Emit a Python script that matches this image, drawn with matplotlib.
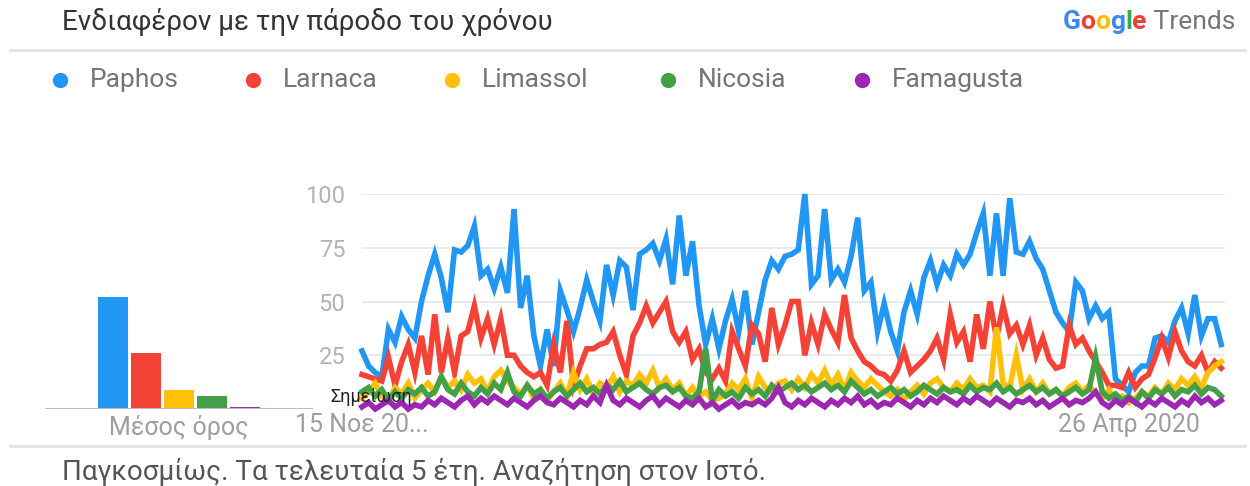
import numpy as np
import pandas as pd
import matplotlib.pyplot as plt
from matplotlib.lines import Line2D

plt.rcParams['font.family'] = ['Roboto', 'DejaVu Sans']

# Search interest, one value every two weeks (15 Nov 2015 - 8 Nov 2020)
dates = pd.date_range('2015-11-15', periods=131, freq='14D')

paphos = [27, 20, 17, 15, 37, 31, 43, 37, 33, 50,
          62, 72, 61, 45, 74, 73, 76, 85, 62, 65,
          56, 66, 54, 93, 47, 62, 34, 20, 37, 20,
          55, 46, 36, 47, 60, 50, 41, 67, 53, 69,
          66, 46, 72, 74, 77, 69, 79, 58, 90, 62,
          78, 48, 30, 42, 28, 41, 51, 36, 55, 30,
          45, 60, 69, 65, 71, 72, 74, 100, 58, 62,
          93, 60, 65, 59, 71, 89, 55, 59, 36, 49,
          36, 27, 45, 55, 44, 61, 69, 58, 67, 62,
          72, 67, 72, 82, 91, 62, 91, 62, 98, 73,
          72, 78, 70, 65, 55, 45, 40, 36, 59, 55,
          42, 48, 42, 45, 14, 11, 8, 17, 20, 20,
          33, 34, 31, 41, 47, 35, 53, 34, 42, 42, 30]

larnaca = [16, 15, 14, 13, 24, 11, 22, 30, 17, 34,
           16, 44, 17, 33, 17, 34, 36, 48, 33, 42,
           30, 42, 25, 25, 20, 17, 15, 17, 11, 30,
           17, 41, 11, 20, 28, 28, 30, 31, 36, 25,
           16, 34, 40, 48, 40, 45, 50, 36, 31, 36,
           23, 28, 17, 14, 19, 13, 36, 28, 20, 39,
           35, 22, 47, 30, 39, 50, 50, 25, 40, 30,
           44, 37, 31, 53, 33, 27, 22, 20, 17, 16,
           13, 18, 27, 17, 20, 23, 27, 33, 23, 44,
           31, 36, 22, 44, 28, 50, 33, 48, 35, 39,
           30, 39, 25, 33, 23, 19, 20, 39, 30, 33,
           27, 22, 17, 11, 11, 10, 17, 10, 14, 16,
           24, 33, 24, 36, 27, 22, 20, 25, 17, 22, 19]

limassol = [5, 8, 12, 6, 4, 10, 7, 12, 5, 9,
            12, 8, 15, 10, 13, 9, 16, 12, 14, 8,
            15, 18, 13, 10, 7, 11, 5, 9, 4, 8,
            12, 6, 17, 9, 14, 7, 12, 10, 15, 8,
            13, 11, 16, 12, 18, 10, 14, 9, 12, 6,
            10, 6, 8, 4, 5, 7, 12, 9, 14, 5,
            15, 10, 8, 12, 13, 9, 14, 10, 16, 12,
            18, 11, 16, 9, 17, 13, 10, 14, 11, 8,
            6, 9, 4, 8, 11, 7, 12, 14, 10, 8,
            12, 9, 14, 10, 11, 8, 38, 12, 10, 25,
            9, 14, 8, 12, 7, 9, 6, 10, 12, 8,
            11, 7, 5, 9, 4, 6, 3, 5, 8, 6,
            10, 7, 12, 9, 14, 11, 15, 10, 17, 20, 22]

nicosia = [8, 10, 6, 9, 4, 8, 5, 9, 7, 10,
           6, 8, 15, 9, 7, 12, 8, 6, 10, 7,
           12, 9, 17, 8, 6, 11, 7, 9, 5, 8,
           10, 6, 9, 12, 8, 10, 7, 11, 9, 13,
           8, 10, 12, 9, 7, 10, 11, 8, 10, 6,
           5, 8, 28, 4, 9, 6, 8, 5, 10, 7,
           9, 6, 11, 8, 10, 12, 9, 11, 8, 10,
           12, 9, 11, 8, 13, 10, 7, 9, 6, 8,
           10, 7, 9, 6, 8, 11, 9, 7, 10, 8,
           9, 7, 11, 8, 10, 9, 12, 8, 10, 7,
           9, 11, 8, 10, 7, 9, 6, 8, 10, 7,
           9, 24, 8, 5, 7, 4, 6, 3, 8, 5,
           9, 7, 10, 6, 9, 8, 11, 7, 10, 9, 6]

famagusta = [1, 3, 0, 2, 4, 1, 3, 0, 2, 1,
             4, 2, 5, 3, 1, 4, 6, 2, 5, 3,
             6, 4, 2, 5, 3, 1, 4, 6, 3, 2,
             5, 3, 1, 4, 2, 6, 3, 11, 4, 2,
             5, 3, 1, 4, 6, 2, 5, 3, 1, 4,
             2, 5, 1, 3, 0, 2, 4, 1, 3, 2,
             4, 2, 5, 10, 3, 1, 4, 2, 5, 3,
             1, 4, 2, 5, 3, 6, 2, 4, 1, 3,
             2, 5, 3, 1, 4, 2, 5, 3, 6, 4,
             2, 5, 3, 6, 4, 2, 5, 3, 1, 4,
             3, 5, 2, 4, 1, 3, 5, 2, 4, 3,
             5, 8, 3, 1, 4, 2, 5, 3, 1, 4,
             2, 5, 3, 1, 4, 2, 6, 3, 5, 2, 4]

names = ['Paphos', 'Larnaca', 'Limassol', 'Nicosia', 'Famagusta']
averages = [52, 26, 9, 6, 1]
colors = ['#2196F3', '#F44336', '#FFC107', '#43A047', '#9C27B0']

fig = plt.figure(figsize=(12.5, 4.86), dpi=100)
W, H = 1250, 486

# header
fig.text(62 / W, 1 - 22 / H, 'Ενδιαφέρον με την πάροδο του χρόνου',
         fontsize=20, color='#333333', va='center')
fig.add_artist(Line2D([10 / W, 1245 / W], [1 - 50 / H] * 2, color='#e4e4e4', lw=2))
fig.add_artist(Line2D([10 / W, 1245 / W], [1 - 446 / H] * 2, color='#e4e4e4', lw=2))

# Google Trends logo, built right to left
t = fig.text(1235 / W, 1 - 22 / H, ' Trends', color='#757575', fontsize=19,
             ha='right', va='center')
logo = [('G', '#4285F4'), ('o', '#EA4335'), ('o', '#FBBC05'),
        ('g', '#4285F4'), ('l', '#34A853'), ('e', '#EA4335')]
for ch, c in reversed(logo):
    t = fig.add_artist(plt.Annotation(ch, xy=(0, 0), xycoords=t, ha='right',
                                      va='bottom', color=c, fontsize=19,
                                      fontweight='bold'))

# legend, placed item by item
legend_x = [60, 253, 452, 668, 862]
for name, c, x in zip(names, colors, legend_x):
    fig.add_artist(Line2D([x / W], [1 - 80 / H], marker='o', ls='', color=c,
                          markersize=10, transform=fig.transFigure))
    fig.text((x + 30) / W, 1 - 80 / H, name, fontsize=19, color='#757575',
             va='center')

# average bars
axb = fig.add_axes([45 / W, 77 / H, 268 / W, 215 / H])
axb.bar(range(len(averages)), averages, width=0.9, color=colors)
axb.set_xlim(-2.05, 6.05)
axb.set_ylim(0, 100)
axb.axhline(0, color='#bdbdbd', lw=1.5)
axb.axis('off')
axb.text(2, -3, 'Μέσος όρος', ha='center', va='top', fontsize=18,
         color='#9e9e9e')

# time series
ax = fig.add_axes([362 / W, 77 / H, 863 / W, 215 / H])
for vals, c in zip([paphos, larnaca, limassol, nicosia, famagusta], colors):
    ax.plot(dates, vals, color=c, lw=4, clip_on=False, solid_joinstyle='miter')
ax.set_xlim(dates[0], dates[-1] + pd.Timedelta(days=8))
ax.set_ylim(0, 100)
ax.set_yticks([25, 50, 75, 100])
ax.tick_params(axis='y', length=0, pad=12, labelsize=17, labelcolor='#b3b3b3')
ax.grid(axis='y', color='#e6e6e6', lw=1.2)
ax.set_axisbelow(True)
for s in ax.spines.values():
    s.set_visible(False)
ax.set_xticks([dates[0], pd.Timestamp('2020-04-26')])
ax.set_xticklabels(['15 Νοε 20...', '26 Απρ 2020'])
ax.tick_params(axis='x', length=0, pad=3, labelsize=18, labelcolor='#9e9e9e')
ax.text(-0.037, 0.055, 'Σημείωση', transform=ax.transAxes, fontsize=13,
        color='#222222', va='center')

# footer
fig.text(62 / W, 1 - 472 / H, 'Παγκοσμίως. Τα τελευταία 5 έτη. Αναζήτηση στον Ιστό.',
         fontsize=20, color='#555555', va='center')

fig.savefig('out.png', dpi=100)
